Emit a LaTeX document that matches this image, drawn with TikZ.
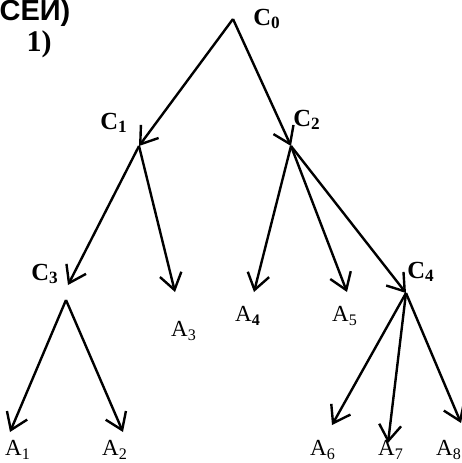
\documentclass[tikz,border=0pt]{standalone}
\usepackage{fontspec}
\setmainfont{Liberation Serif}
\newfontfamily\cyrsans{Liberation Sans}
\usetikzlibrary{positioning,arrows.meta}

\begin{document}
\begin{tikzpicture}[
        x=0.5pt, y=-0.5pt,
        cnode/.style={
            inner sep=0pt,
            font=\fontsize{12.3}{14}\selectfont\bfseries
        },
        anode/.style={
            inner sep=0pt,
            font=\fontsize{11.5}{13}\selectfont
        },
        arrow/.style={
            -{Straight Barb[length=8pt,width=11pt]},
            line width=1.2pt
        }
    ]
    \useasboundingbox (0,0) rectangle (462,463);

    % Heading fragment
    \node[inner sep=0pt, font=\cyrsans\fontsize{14.5}{16}\selectfont\bfseries] (head) at (35,13) {СЕИ)};
    \node[inner sep=0pt, font=\fontsize{15}{17}\selectfont\bfseries] (num) at (39,44) {1)};

    % Branch points
    \coordinate (c0) at (233,19);
    \coordinate (c1) at (139,146);
    \coordinate (c2) at (291,146);
    \coordinate (c3in) at (68,285);
    \coordinate (c3) at (66,300);
    \coordinate (c4) at (406,293);

    % Labels of the inner vertices
    \node[cnode] (l0) at (267,19) {C\textsubscript{0}};
    \node[cnode] (l1) at (114,123) {C\textsubscript{1}};
    \node[cnode] (l2) at (307,120) {C\textsubscript{2}};
    \node[cnode] (l3) at (45,274) {C\textsubscript{3}};
    \node[cnode] (l4) at (421,272) {C\textsubscript{4}};

    % Leaves
    \node[anode] (a1) at (18,450) {A\textsubscript{1}};
    \node[anode] (a2) at (115,450) {A\textsubscript{2}};
    \node[anode] (a3) at (184,331) {A\textsubscript{3}};
    \node[anode] (a4) at (248,316) {A\textsubscript{\bfseries 4}};
    \node[anode] (a5) at (345,316) {A\textsubscript{5}};
    \node[anode] (a6) at (323,450) {A\textsubscript{6}};
    \node[anode] (a7) at (391,450) {A\textsubscript{7}};
    \node[anode] (a8) at (449,450) {A\textsubscript{8}};

    % Tips of the leaf arrows
    \coordinate (t1) at (10,432);
    \coordinate (t2) at (123,432);
    \coordinate (t3) at (175,292);
    \coordinate (t4) at (254,292);
    \coordinate (t5) at (347,292);
    \coordinate (t6) at (332,425);
    \coordinate (t7) at (388,443);
    \coordinate (t8) at (461,423);

    % Connections
    \draw[arrow] (c0) -- (c1);
    \draw[arrow] (c0) -- (c2);
    \draw[arrow] (c1) -- (c3in);
    \draw[arrow] (c1) -- (t3);
    \draw[arrow] (c2) -- (t4);
    \draw[arrow] (c2) -- (t5);
    \draw[arrow] (c2) -- (c4);
    \draw[arrow] (c3) -- (t1);
    \draw[arrow] (c3) -- (t2);
    \draw[arrow] (c4) -- (t6);
    \draw[arrow] (c4) -- (t7);
    \draw[arrow] (c4) -- (t8);

\end{tikzpicture}
\end{document}
